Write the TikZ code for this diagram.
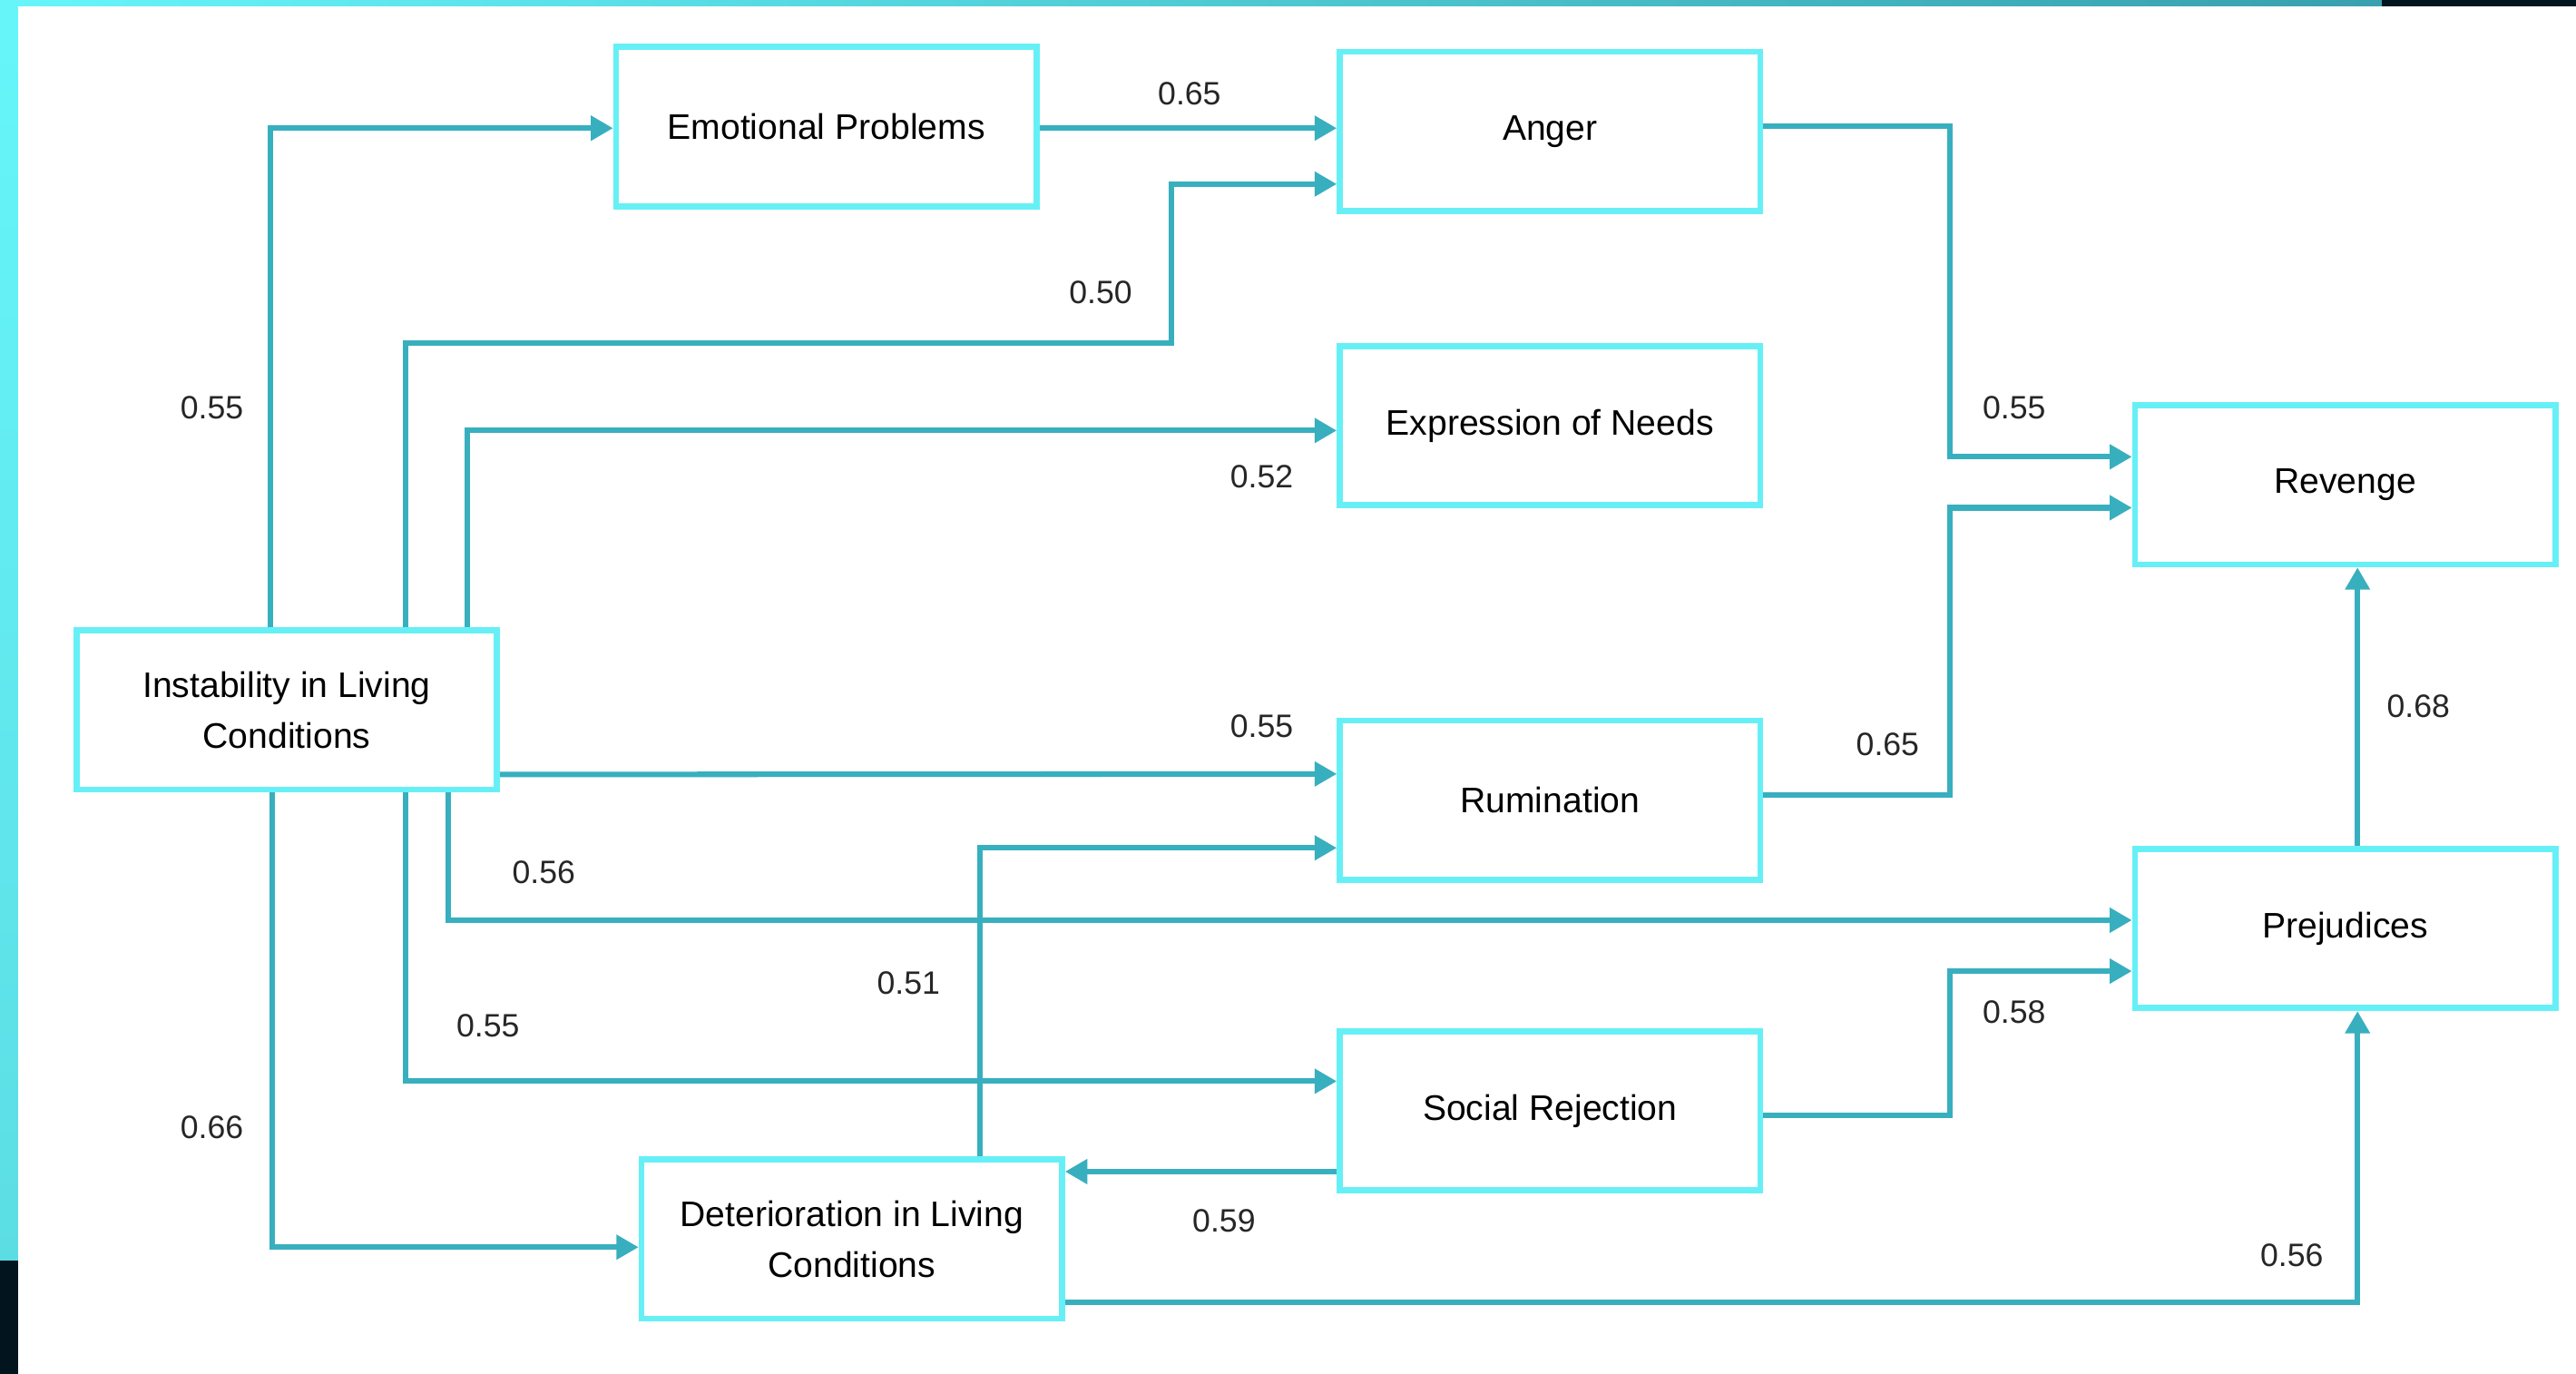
\documentclass[tikz,border=0pt]{standalone}
\usepackage{fontspec}
\setmainfont{Liberation Sans}
\usetikzlibrary{arrows.meta,calc}
\definecolor{boxc}{HTML}{66F0F6}
\definecolor{linec}{HTML}{38AFBE}
\definecolor{darkc}{HTML}{02151F}
\definecolor{bandl}{HTML}{66F6FA}
\definecolor{bandr}{HTML}{38A0AE}
\definecolor{bandb}{HTML}{5CDDE4}
\tikzset{
  box/.style={draw=boxc, line width=2.1pt, fill=white, minimum width=5.12cm, minimum height=1.94cm, align=center, font=\fontsize{12.3}{17.6}\selectfont, inner sep=2pt},
  conn/.style={draw=linec, line width=1.9pt, -{Triangle[length=0.27cm,width=0.29cm]}},
  lbl/.style={font=\fontsize{11.2}{13}\selectfont, text=black!85, inner sep=0pt}
}
\begin{document}
\begin{tikzpicture}[x=0.02cm,y=-0.02cm]
\useasboundingbox (0,0) rectangle (1568,836);
\fill[white] (0,0) rectangle (1568,836);
% frame bands
\shade[left color=bandl, right color=bandr] (0,0) rectangle (1450,3.8);
\fill[darkc] (1450,0) rectangle (1568,3.8);
\shade[top color=bandl, bottom color=bandb] (0,0) rectangle (11,767);
\fill[darkc] (0,767) rectangle (11,836);

% nodes
\node[box] (EP) at (503,77) {Emotional Problems};
\node[box] (AN) at (943.5,80) {Anger};
\node[box] (EN) at (943.5,259) {Expression of Needs};
\node[box] (RV) at (1427.5,295) {Revenge};
\node[box] (IL) at (174.5,432) {Instability in Living\\Conditions};
\node[box] (RU) at (943.5,487) {Rumination};
\node[box] (PR) at (1427.5,565) {Prejudices};
\node[box] (SR) at (943.5,676) {Social Rejection};
\node[box] (DL) at (518.5,754) {Deterioration in Living\\Conditions};

\coordinate (b2) at (713,209);

% connectors
\draw[conn] ($(IL.north west)+(120,0)$) |- ($(EP.west)+(0,1)$);
\draw[conn] ($(IL.north west)+(202,0)$) |- (b2) |- ($(AN.west)+(0,32)$);
\draw[conn] ($(IL.north east)+(-20,0)$) |- ($(EN.west)+(0,3)$);
\draw[conn] ($(EP.east)+(0,1)$) -- ($(AN.west)+(0,-2)$);
\draw[conn] ($(AN.east)+(0,-3)$) -| ($(RV.west)+(-111,-17)$) -- ($(RV.west)+(0,-17)$);
\draw[conn] ($(RU.east)+(0,-3)$) -| ($(RV.west)+(-111,14)$) -- ($(RV.west)+(0,14)$);
\draw[conn] ($(IL.south east)+(0,-11)$) -- ($(RU.west)+(0,-16)$);
\draw[conn] ($(IL.south west)+(228,0)$) |- ($(PR.west)+(0,-5)$);
\draw[conn] ($(IL.south west)+(202,0)$) |- ($(SR.west)+(0,-18)$);
\draw[conn] ($(IL.south west)+(121,0)$) |- ($(DL.west)+(0,5)$);
\draw[conn] ($(DL.north west)+(208,0)$) |- ($(RU.west)+(0,29)$);
\draw[conn] ($(SR.west)+(0,37)$) -- ($(DL.east)+(0,-41)$);
\draw[conn] ($(SR.east)+(0,3)$) -| ($(PR.west)+(-111,26)$) -- ($(PR.west)+(0,26)$);
\draw[conn] ($(DL.south east)+(0,-12)$) -| ($(PR.south)+(7.5,0)$);
\draw[conn] ($(PR.north)+(7.5,0)$) -- ($(RV.south)+(7.5,0)$);

% labels
\node[lbl] (l1) at (129,248) {0.55};
\node[lbl] (l2) at (670,178) {0.50};
\node[lbl] (l3) at (768,290) {0.52};
\node[lbl] (l4) at (724,57) {0.65};
\node[lbl] (l5) at (1226,248) {0.55};
\node[lbl] (l6) at (1149,453) {0.65};
\node[lbl] (l7) at (768,442) {0.55};
\node[lbl] (l8) at (331,531) {0.56};
\node[lbl] (l9) at (297,624) {0.55};
\node[lbl] (l10) at (129,686) {0.66};
\node[lbl] (l11) at (553,598) {0.51};
\node[lbl] (l12) at (745,743) {0.59};
\node[lbl] (l13) at (1226,616) {0.58};
\node[lbl] (l14) at (1395,764) {0.56};
\node[lbl] (l15) at (1472,430) {0.68};
\end{tikzpicture}
\end{document}
